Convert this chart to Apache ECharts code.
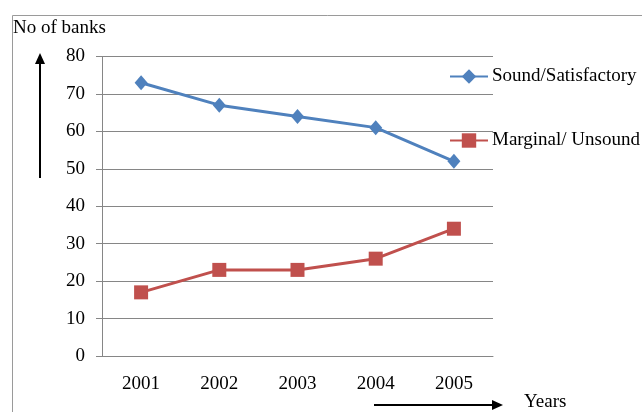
<!DOCTYPE html>
<html>
<head>
<meta charset="utf-8">
<script src="https://cdn.jsdelivr.net/npm/echarts@6/dist/echarts.min.js"></script>
<style>
  html, body { margin: 0; padding: 0; background: #fff; }
  #chart { width: 642px; height: 412px; }
</style>
</head>
<body>
<div id="chart"></div>
<script>
  const years = ['2001', '2002', '2003', '2004', '2005']
  const sound = [73, 67, 64, 61, 52]
  const marginal = [17, 23, 23, 26, 34]
  const yTicks = { min: 0, max: 80, interval: 10 }

  const serif = '"Liberation Serif", "DejaVu Serif", serif'
  const chart = echarts.init(document.getElementById('chart'))

  chart.setOption({
    animation: false,
    textStyle: { fontFamily: serif },
    grid: { left: 102, right: 149, top: 56.5, bottom: 56 },
    legend: {
      orient: 'vertical',
      left: 444,
      top: 62,
      itemWidth: 38,
      itemHeight: 18,
      itemGap: 45,
      textStyle: { fontFamily: serif, fontSize: 19, color: '#000', padding: [0, 0, 0, -1] },
      data: ['Sound/Satisfactory', 'Marginal/ Unsound']
    },
    xAxis: {
      type: 'category',
      data: years,
      boundaryGap: true,
      axisLine: { lineStyle: { color: '#868686', width: 1 } },
      axisTick: { length: 6, lineStyle: { color: '#868686' } },
      axisLabel: { color: '#000', fontFamily: serif, fontSize: 19, margin: 19 }
    },
    yAxis: {
      type: 'value',
      min: yTicks.min,
      max: yTicks.max,
      interval: yTicks.interval,
      axisLine: { show: true, lineStyle: { color: '#868686', width: 1 } },
      axisTick: { show: true, length: 6, lineStyle: { color: '#868686' } },
      axisLabel: { color: '#000', fontFamily: serif, fontSize: 19, margin: 17 },
      splitLine: { lineStyle: { color: '#868686', width: 1 } }
    },
    series: [
      {
        name: 'Sound/Satisfactory',
        type: 'line',
        data: sound,
        symbol: 'diamond',
        symbolSize: [13, 15],
        lineStyle: { color: '#4F81BD', width: 3 },
        itemStyle: { color: '#4F81BD' }
      },
      {
        name: 'Marginal/ Unsound',
        type: 'line',
        data: marginal,
        symbol: 'rect',
        symbolSize: 14,
        lineStyle: { color: '#C0504D', width: 3 },
        itemStyle: { color: '#C0504D' }
      }
    ],
    graphic: [
      {
        type: 'polyline',
        shape: { points: [[12.5, 412], [12.5, 15.5], [642, 15.5]] },
        style: { stroke: '#9a9a9a', lineWidth: 1, fill: null }
      },
      {
        type: 'text',
        left: 13,
        top: 19,
        style: { text: 'No of banks', fontFamily: serif, fontSize: 19, fill: '#000' }
      },
      {
        type: 'line',
        shape: { x1: 40, y1: 178, x2: 40, y2: 62 },
        style: { stroke: '#000', lineWidth: 2 }
      },
      {
        type: 'polygon',
        shape: { points: [[40, 53], [35, 64], [45, 64]] },
        style: { fill: '#000' }
      },
      {
        type: 'line',
        shape: { x1: 374, y1: 405, x2: 493, y2: 405 },
        style: { stroke: '#000', lineWidth: 2 }
      },
      {
        type: 'polygon',
        shape: { points: [[503, 405], [492, 400], [492, 410]] },
        style: { fill: '#000' }
      },
      {
        type: 'text',
        left: 524,
        top: 393,
        style: { text: 'Years', fontFamily: serif, fontSize: 19, fill: '#000' }
      }
    ]
  })
</script>
</body>
</html>
